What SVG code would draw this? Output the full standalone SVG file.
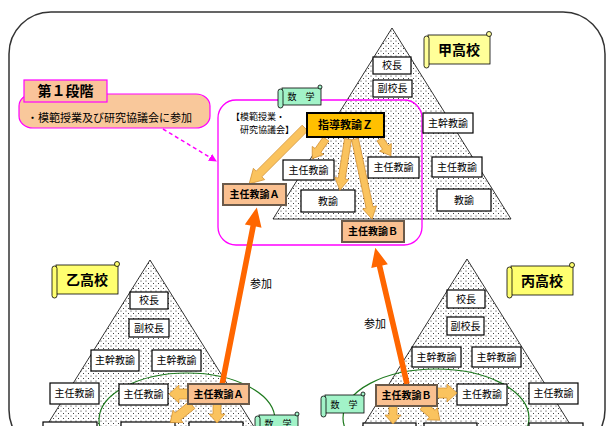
<svg xmlns="http://www.w3.org/2000/svg" width="615" height="426" viewBox="0 0 615 426">
<defs>
<pattern id="dots" width="5" height="5" patternUnits="userSpaceOnUse">
<rect width="5" height="5" fill="#fff"/>
<circle cx="1" cy="1" r="0.5" fill="#000"/>
<circle cx="3.5" cy="3.5" r="0.5" fill="#000"/>
</pattern>
<marker id="mag" markerWidth="8" markerHeight="8" refX="7" refY="4" orient="auto" markerUnits="userSpaceOnUse">
<path d="M0,0 L8,4 L0,8 Z" fill="#FF00FF"/>
</marker>
<style>
text{font-family:"Noto Sans CJK JP","Noto Sans",sans-serif;fill:#000}
.box{fill:#fff;stroke:#000;stroke-width:1.2}
.bt{font-size:10px;text-anchor:middle}
.tb{font-size:10px;text-anchor:middle;font-weight:bold}
.lead{fill:#FAC090;stroke:#6b5a4a;stroke-width:2}
.tri{fill:url(#dots);stroke:#000;stroke-width:0.8}
.ba{fill:#FAC35E;stroke:#D08C2C;stroke-width:0.7}
.big{fill:#FF6600}
.scg{fill:#A2F3C8;stroke:#000;stroke-width:0.8}
.scy{fill:#FFFF70;stroke:#000;stroke-width:0.8}
.scy2{fill:#FFFF99;stroke:#000;stroke-width:0.8}
.ell{fill:none;stroke:#1E7A1E;stroke-width:1.2}
</style>
</defs>
<rect width="615" height="426" fill="#fff"/>
<rect x="9" y="12" width="596" height="440" rx="42" fill="none" stroke="#333" stroke-width="1.5"/>

<g id="pyramids">
<polygon class="tri" points="392,28 273,219 511,219"/>
<polygon class="tri" points="150,260 39,438 261,438"/>
<polygon class="tri" points="467,259 356,437 578,437"/>
</g>

<g id="stage1">
<rect x="19" y="94" width="191" height="34" rx="14" ry="12" fill="#F9C89B" stroke="#FF00FF" stroke-width="1.2"/>
<rect x="24" y="80" width="83" height="22" fill="#FAC39A" stroke="#FF00FF" stroke-width="1.2"/>
<text x="65.5" y="96" font-size="14" font-weight="bold" text-anchor="middle">第１段階</text>
<text x="27" y="122" font-size="11">・模範授業及び研究協議会に参加</text>
</g>

<g id="model-class">
<rect x="218" y="100" width="204" height="145" rx="18" fill="none" stroke="#FF00FF" stroke-width="1.3"/>
<text x="231" y="120" font-size="9">【模範授業・</text>
<text x="240" y="133" font-size="9">研究協議会】</text>
</g>

<g id="ellipses">
<ellipse class="ell" cx="187" cy="420" rx="88" ry="47"/>
<ellipse class="ell" cx="436" cy="418" rx="93" ry="49"/>
</g>

<g id="scrolls">
<g id="s-kou"><rect class="scy2" x="428" y="35" width="62" height="29"/><rect class="scy2" x="424" y="36" width="5" height="32" rx="2.5"/><circle class="scy2" cx="489" cy="34" r="2.5"/><text x="459" y="55" font-size="14" font-weight="bold" text-anchor="middle">甲高校</text></g>
<g id="s-otsu"><rect class="scy" x="56" y="265" width="62" height="29"/><rect class="scy" x="52" y="266" width="5" height="32" rx="2.5"/><circle class="scy" cx="117" cy="264" r="2.5"/><text x="87" y="285" font-size="14" font-weight="bold" text-anchor="middle">乙高校</text></g>
<g id="s-hei"><rect class="scy" x="511" y="266" width="62" height="29"/><rect class="scy" x="507" y="267" width="5" height="31" rx="2.5"/><circle class="scy" cx="572" cy="265" r="2.5"/><text x="542" y="286" font-size="14" font-weight="bold" text-anchor="middle">丙高校</text></g>
<g id="s-math1"><rect class="scg" x="282" y="88" width="39" height="17"/><rect class="scg" x="278" y="89" width="5" height="19" rx="2.5"/><circle class="scg" cx="320" cy="87" r="2"/><text x="301" y="100" font-size="9" text-anchor="middle">数　学</text></g>
<g id="s-math2"><rect class="scg" x="259" y="415" width="39" height="18"/><rect class="scg" x="255" y="416" width="5" height="20" rx="2.5"/><circle class="scg" cx="297" cy="414" r="2"/><text x="278" y="427" font-size="9" text-anchor="middle">数　学</text></g>
<g id="s-math3"><rect class="scg" x="325" y="395" width="39" height="18"/><rect class="scg" x="321" y="396" width="5" height="21" rx="2.5"/><circle class="scg" cx="363" cy="394" r="2"/><text x="344" y="408" font-size="9" text-anchor="middle">数　学</text></g>
</g>

<g id="kou-boxes">
<g id="k-principal"><rect class="box" x="373" y="57" width="38" height="17"/><text class="bt" x="392" y="69">校長</text></g>
<g id="k-vice"><rect class="box" x="373" y="80" width="39" height="17"/><text class="bt" x="392.5" y="92">副校長</text></g>
<g id="k-shukan"><rect class="box" x="423" y="113" width="50" height="20"/><text class="bt" x="448" y="126.5">主幹教諭</text></g>
<g id="k-shunin-r"><rect class="box" x="432" y="157" width="50" height="20"/><text class="bt" x="457" y="170.5">主任教諭</text></g>
<g id="k-kyoyu-r"><rect class="box" x="437" y="189" width="54" height="22"/><text class="bt" x="464" y="203.5">教諭</text></g>
<g id="k-shunin-m"><rect class="box" x="368" y="157" width="51" height="21"/><text class="bt" x="393.5" y="171">主任教諭</text></g>
<g id="k-shunin-l"><rect class="box" x="283" y="160" width="51" height="20"/><text class="bt" x="308.5" y="173.5">主任教諭</text></g>
<g id="k-kyoyu-m"><rect class="box" x="301" y="190" width="54" height="22"/><text class="bt" x="328" y="204.5">教諭</text></g>
</g>

<g id="otsu-boxes">
<g id="o-principal"><rect class="box" x="130" y="292" width="38" height="17"/><text class="bt" x="149" y="304">校長</text></g>
<g id="o-vice"><rect class="box" x="129" y="319" width="40" height="18"/><text class="bt" x="149" y="331.5">副校長</text></g>
<g id="o-shukan1"><rect class="box" x="91" y="350" width="48" height="21"/><text class="bt" x="115" y="364">主幹教諭</text></g>
<g id="o-shukan2"><rect class="box" x="152" y="350" width="49" height="21"/><text class="bt" x="176.5" y="364">主幹教諭</text></g>
<g id="o-shunin1"><rect class="box" x="50" y="383" width="49" height="21"/><text class="bt" x="74.5" y="397">主任教諭</text></g>
<g id="o-shunin2"><rect class="box" x="119" y="384" width="49" height="21"/><text class="bt" x="143.5" y="398">主任教諭</text></g>
<g id="o-b1"><rect class="box" x="43" y="422" width="54" height="20"/></g>
<g id="o-b2"><rect class="box" x="121" y="422" width="54" height="20"/></g>
<g id="o-b3"><rect class="box" x="189" y="422" width="54" height="20"/></g>
</g>

<g id="hei-boxes">
<g id="h-principal"><rect class="box" x="447" y="290" width="38" height="18"/><text class="bt" x="466" y="302.5">校長</text></g>
<g id="h-vice"><rect class="box" x="447" y="317" width="37" height="18"/><text class="bt" x="465.5" y="329.5">副校長</text></g>
<g id="h-shukan1"><rect class="box" x="412" y="347" width="49" height="20"/><text class="bt" x="436.5" y="360.5">主幹教諭</text></g>
<g id="h-shukan2"><rect class="box" x="472" y="347" width="49" height="20"/><text class="bt" x="496.5" y="360.5">主幹教諭</text></g>
<g id="h-shunin1"><rect class="box" x="457" y="384" width="50" height="21"/><text class="bt" x="482" y="398">主任教諭</text></g>
<g id="h-shunin2"><rect class="box" x="529" y="383" width="49" height="21"/><text class="bt" x="553.5" y="397">主任教諭</text></g>
<g id="h-b1"><rect class="box" x="363" y="423" width="53" height="20"/></g>
<g id="h-b2"><rect class="box" x="424" y="423" width="53" height="20"/></g>
<g id="h-b3"><rect class="box" x="529" y="423" width="54" height="20"/></g>
</g>

<g id="connectors">
<line x1="163" y1="129" x2="216" y2="161" stroke="#FF00FF" stroke-width="1.5" stroke-dasharray="4,3" marker-end="url(#mag)"/>
<polygon class="ba" transform="translate(305,128) rotate(135)" points="0,-4 65,-4 65,-8 79,0 65,8 65,4 0,4"/>
<polygon class="ba" transform="translate(326,139) rotate(125)" points="0,-3.5 14,-3.5 14,-7 24,0 14,7 14,3.5 0,3.5"/>
<polygon class="ba" transform="translate(348,139) rotate(99)" points="0,-3.5 40,-3.5 40,-7 52,0 40,7 40,3.5 0,3.5"/>
<polygon class="ba" transform="translate(355,139) rotate(78)" points="0,-3.5 70,-3.5 70,-7 82,0 70,7 70,3.5 0,3.5"/>
<polygon class="ba" transform="translate(380,139) rotate(57)" points="0,-3.5 10,-3.5 10,-7 20,0 10,7 10,3.5 0,3.5"/>
<polygon class="ba" transform="translate(188,394) rotate(180)" points="0,-5 9,-5 9,-9 19,0 9,9 9,5 0,5"/>
<polygon class="ba" transform="translate(192,405) rotate(141)" points="0,-4.5 18,-4.5 18,-8 28,0 18,8 18,4.5 0,4.5"/>
<polygon class="ba" transform="translate(217,404) rotate(90)" points="0,-4 10,-4 10,-8 19,0 10,8 10,4 0,4"/>
<polygon class="ba" transform="translate(437,393) rotate(0)" points="0,-5 10,-5 10,-9 20,0 10,9 10,5 0,5"/>
<polygon class="ba" transform="translate(393,406) rotate(90)" points="0,-4 9,-4 9,-8 18,0 9,8 9,4 0,4"/>
<polygon class="ba" transform="translate(423,406) rotate(40)" points="0,-4.5 12,-4.5 12,-8 22,0 12,8 12,4.5 0,4.5"/>
<polygon class="big" transform="translate(222,385) rotate(-78.9)" points="0,-2.8 162,-2.8 162,-8.5 181,0 162,8.5 162,2.8 0,2.8"/>
<polygon class="big" transform="translate(407,384) rotate(-103.1)" points="0,-2.8 121,-2.8 121,-8.5 140,0 121,8.5 121,2.8 0,2.8"/>
<text x="250" y="288" font-size="11">参加</text>
<text x="364" y="328" font-size="11">参加</text>
</g>

<g id="leaders">
<g id="z"><rect x="307" y="113" width="77" height="24" fill="#FFC000" stroke="#000" stroke-width="2"/><text x="345.5" y="129" font-size="11" font-weight="bold" text-anchor="middle">指導教諭Ｚ</text></g>
<g id="a-top"><rect class="lead" x="223" y="184" width="63" height="21"/><text class="tb" x="254.5" y="198">主任教諭Ａ</text></g>
<g id="b-top"><rect class="lead" x="342" y="221" width="62" height="21"/><text class="tb" x="373" y="235">主任教諭Ｂ</text></g>
<g id="a-bot"><rect class="lead" x="188" y="384" width="61" height="20"/><text class="tb" x="218.5" y="397.5">主任教諭Ａ</text></g>
<g id="b-bot"><rect class="lead" x="376" y="385" width="61" height="21"/><text class="tb" x="406.5" y="399">主任教諭Ｂ</text></g>
</g>
</svg>
